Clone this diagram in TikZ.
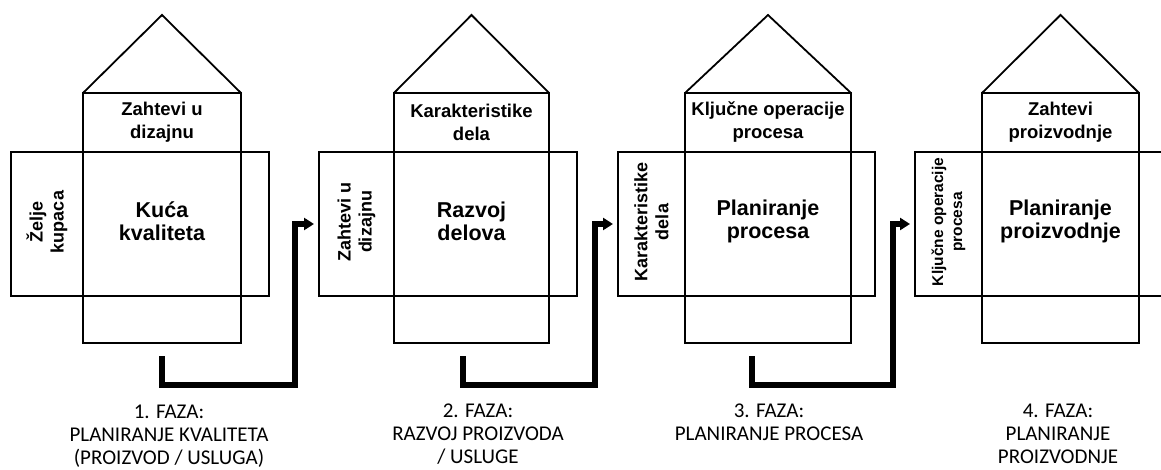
\documentclass[tikz,border=0pt]{standalone}
\usepackage{fontspec}
\setmainfont{Liberation Sans}
\newfontfamily\phasefont{Carlito}
\usetikzlibrary{arrows.meta,fit}

\tikzset{
  outline/.style={draw=black, line width=1.8pt, line join=miter},
  frame/.style={outline, rectangle, inner sep=0pt, outer sep=0pt},
  toplabel/.style={font=\fontsize{18.5}{23}\selectfont\bfseries, align=center, inner sep=0pt},
  mainlabel/.style={font=\fontsize{21.5}{23}\selectfont\bfseries, align=center, inner sep=0pt},
  sidelabel/.style={font=\fontsize{18}{21}\selectfont\bfseries, align=center, rotate=90, inner sep=0pt},
  phase/.style={font=\phasefont\fontsize{21}{23}\selectfont, align=center, inner sep=0pt},
  flow/.style={line width=6pt, line join=miter, -{Triangle[length=10pt,width=12pt]}, shorten >=5pt},
}

% one house: id, column left/right, band left/right, roof label, body label, side label, side label options
\newcommand\qfdhouse[9]{%
  \node[frame, fit={(#2,93) (#3,343)}] (col#1) {};
  \node[frame, fit={(#4,152) (#5,296)}] (band#1) {};
  \coordinate (apex#1) at ({(#2+#3)/2},15);
  \draw[outline] (col#1.north west) -- (apex#1) -- (col#1.north east);
  \node[toplabel] (top#1) at ({(#2+#3)/2},122) {#6};
  \node[mainlabel] (main#1) at ({(#2+#3)/2},221) {#7};
  \node[sidelabel,#9] (side#1) at ({(#2+#4)/2},222) {#8};
}

\begin{document}
\begin{tikzpicture}[x=1pt,y=-1pt]
\useasboundingbox (0,0) rectangle (1161,470);
\fill[white] (0,0) rectangle (1161,470);
\clip (0,0) rectangle (1161,470);

\qfdhouse{1}{83}{241}{11}{269}{Zahtevi u\\dizajnu}{Kuća\\kvaliteta}{Želje\\kupaca}{}
\qfdhouse{2}{394}{549}{319}{577}{Karakteristike\\dela}{Razvoj\\delova}{Zahtevi u\\dizajnu}{}
\qfdhouse{3}{685}{851}{618}{875}{Ključne operacije\\procesa}{Planiranje\\procesa}{Karakteristike\\dela}{}
\qfdhouse{4}{982}{1139}{915}{1180}{Zahtevi\\proizvodnje}{Planiranje\\proizvodnje}{Ključne operacije\\procesa}{font=\fontsize{15.5}{19}\selectfont\bfseries}

% hand-over arrows between the phases
\coordinate (s1) at (162,356); \coordinate (k1) at (295,385);
\coordinate (s2) at (463,356); \coordinate (k2) at (595,385);
\coordinate (s3) at (752,356); \coordinate (k3) at (893,385);
\draw[flow] (s1) |- (k1) |- (band2.west);
\draw[flow] (s2) |- (k2) |- (band3.west);
\draw[flow] (s3) |- (k3) |- (band4.west);

% phase captions
\node[phase] (ph1) at (169,436) {1. FAZA:\\PLANIRANJE KVALITETA\\(PROIZVOD / USLUGA)};
\node[phase] (ph2) at (478,434) {2. FAZA:\\RAZVOJ PROIZVODA\\/ USLUGE};
\node[phase] (ph3) at (769,422) {3. FAZA:\\PLANIRANJE PROCESA};
\node[phase] (ph4) at (1058,434) {4. FAZA:\\PLANIRANJE\\PROIZVODNJE};
\end{tikzpicture}
\end{document}
